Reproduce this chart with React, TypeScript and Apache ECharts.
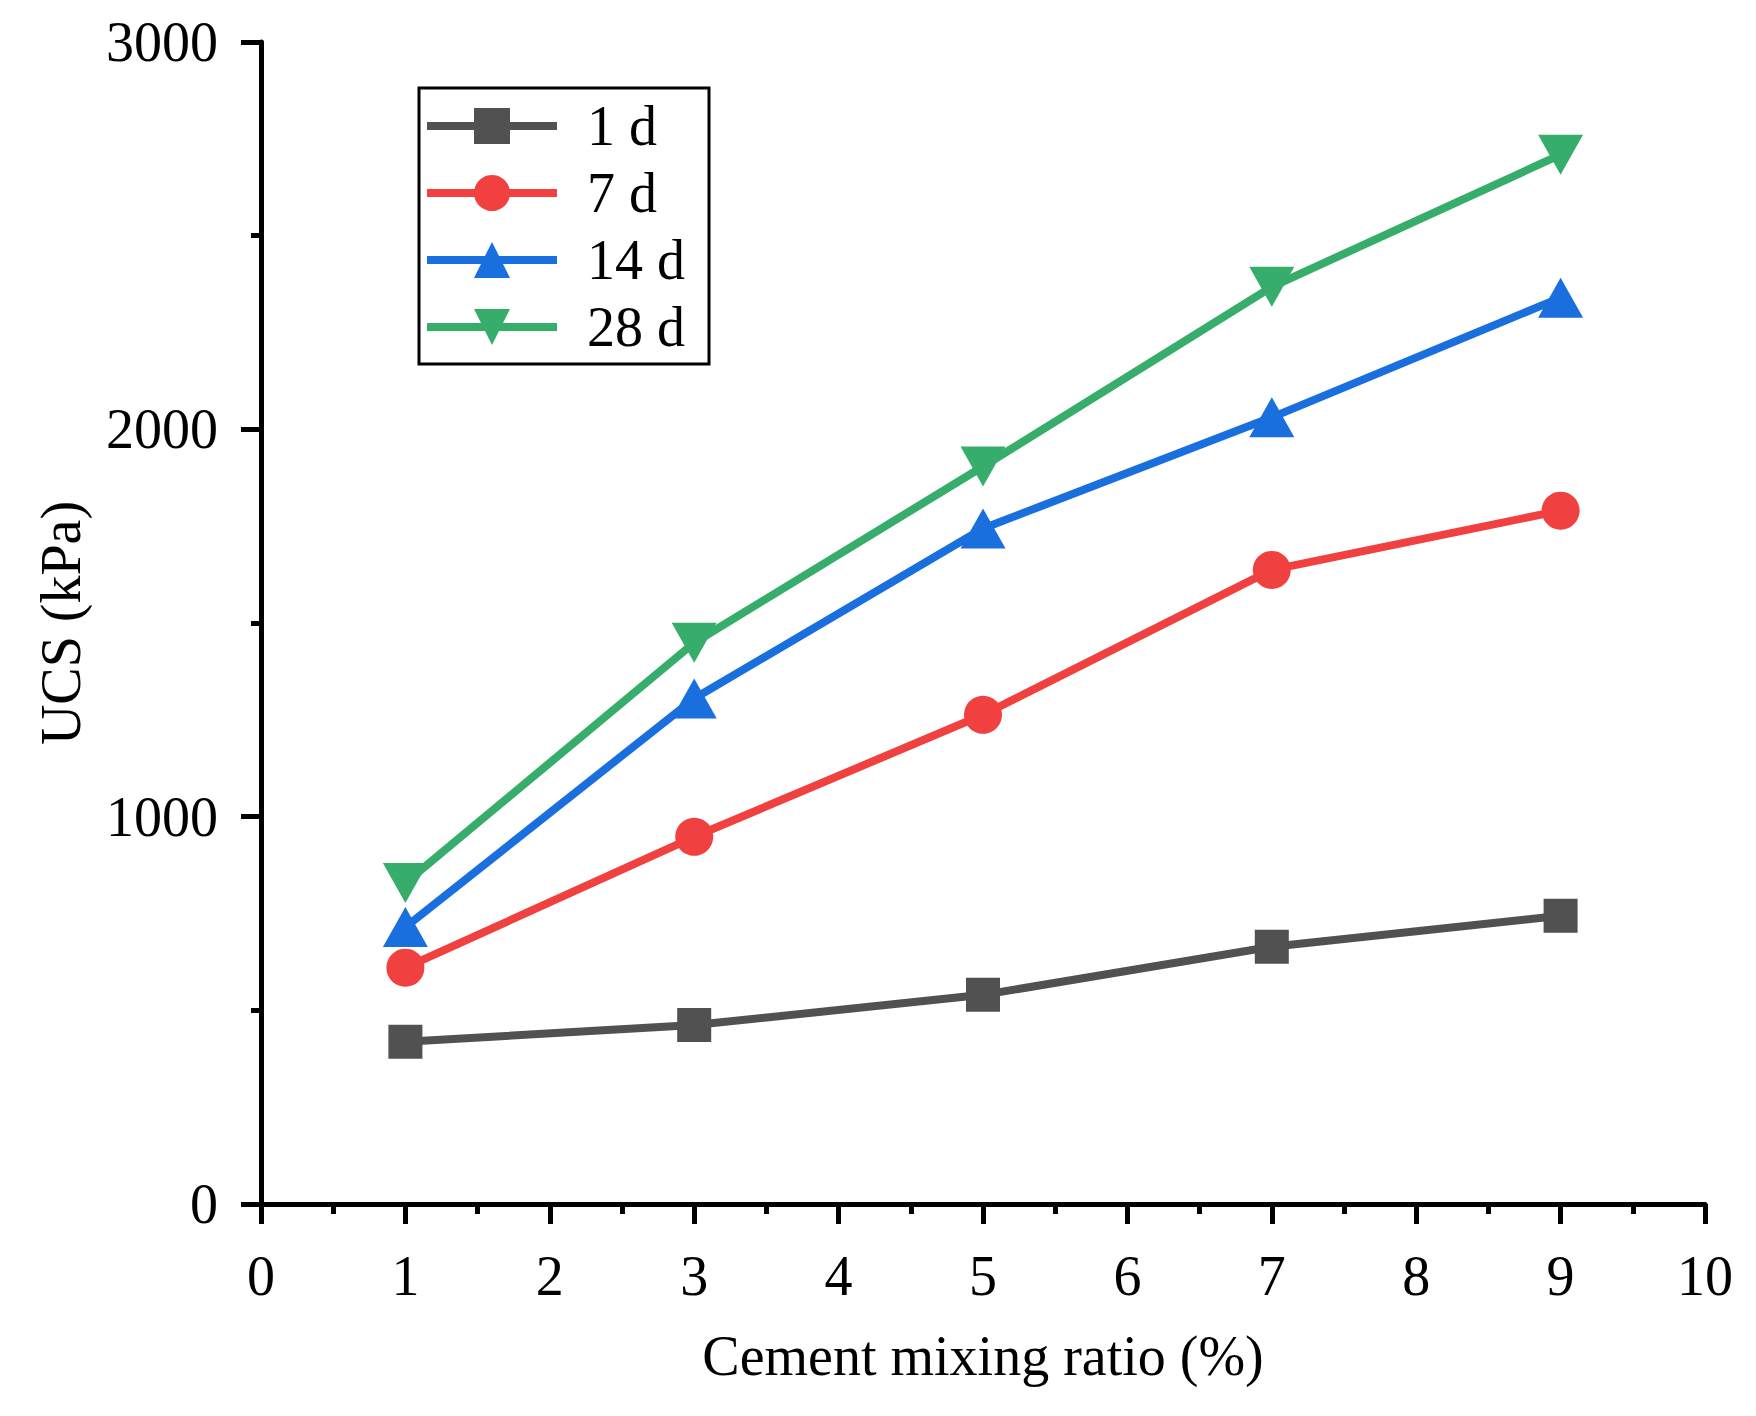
import * as echarts from "echarts";
import { useEffect, useRef } from "react";

// cement mixing ratio (%)
const ratios = [1, 3, 5, 7, 9];

// UCS (kPa) per curing age
const ucs1d = [419, 462, 540, 664, 744];
const ucs7d = [610, 948, 1263, 1637, 1790];
const ucs14d = [715, 1305, 1744, 2031, 2340];
const ucs28d = [829, 1449, 1904, 2368, 2709];

const seriesNames = ["1 d", "7 d", "14 d", "28 d"];
const seriesColors = ["#515151", "#F14040", "#1A6FDF", "#37AD6B"];

const FONT = "'Liberation Serif', 'Times New Roman', serif";

const toPoints = (vals: number[]) => ratios.map((x, i) => [x, vals[i]]);

const App: React.FC = () => {
    const chartRef = useRef<HTMLDivElement>(null);

    useEffect(() => {
        const chart = echarts.init(chartRef.current!, null, { renderer: "svg" });

        const axisCommon = {
            axisLine: { lineStyle: { color: "#000", width: 5 } },
            axisTick: { length: 20, lineStyle: { color: "#000", width: 5 } },
            minorTick: { show: true, splitNumber: 2, length: 10, lineStyle: { color: "#000", width: 5 } },
            splitLine: { show: false },
            nameTextStyle: { fontFamily: FONT, fontSize: 56, color: "#000" },
        };

        const option = {
            animation: false,
            backgroundColor: "#fff",
            grid: { left: 261, right: 51, top: 42, bottom: 212 },
            legend: {
                orient: "vertical",
                left: 419,
                top: 88,
                padding: [10, 24, 9, 4],
                itemWidth: 130,
                itemHeight: 45,
                itemGap: 11,
                borderColor: "#000",
                borderWidth: 3,
                lineStyle: { width: 8 },
                textStyle: { fontFamily: FONT, fontSize: 56, color: "#000", padding: [0, 0, 0, 25] },
                data: seriesNames,
            },
            xAxis: {
                ...axisCommon,
                type: "value",
                min: 0,
                max: 10,
                interval: 1,
                name: "Cement mixing ratio (%)",
                nameLocation: "middle",
                nameGap: 124,
                axisLabel: { fontFamily: FONT, fontSize: 56, color: "#000", margin: 44 },
            },
            yAxis: {
                ...axisCommon,
                type: "value",
                min: 0,
                max: 3000,
                interval: 1000,
                name: "UCS (kPa)",
                nameLocation: "middle",
                nameGap: 172,
                axisLabel: {
                    fontFamily: FONT,
                    fontSize: 56,
                    color: "#000",
                    margin: 43,
                    formatter: (v: number) => String(v),
                },
            },
            series: [
                { data: toPoints(ucs1d), symbol: "rect", symbolSize: 34 },
                { data: toPoints(ucs7d), symbol: "circle", symbolSize: 38 },
                { data: toPoints(ucs14d), symbol: "triangle", symbolSize: [45, 40] },
                { data: toPoints(ucs28d), symbol: "path://M-1,-1L1,-1L0,1Z", symbolSize: [45, 40] },
            ].map((s, i) => ({
                ...s,
                type: "line",
                name: seriesNames[i],
                color: seriesColors[i],
                lineStyle: { width: 8, color: seriesColors[i] },
                itemStyle: { color: seriesColors[i] },
                emphasis: { disabled: true },
            })),
        };

        chart.setOption(option);

        return () => {
            chart.dispose();
        };
    }, []);

    return (
        <div
            ref={chartRef}
            style={{
                position: "fixed",
                left: 0,
                top: 0,
                width: "1756px",
                height: "1416px",
            }}
        />
    );
};

export default App;
